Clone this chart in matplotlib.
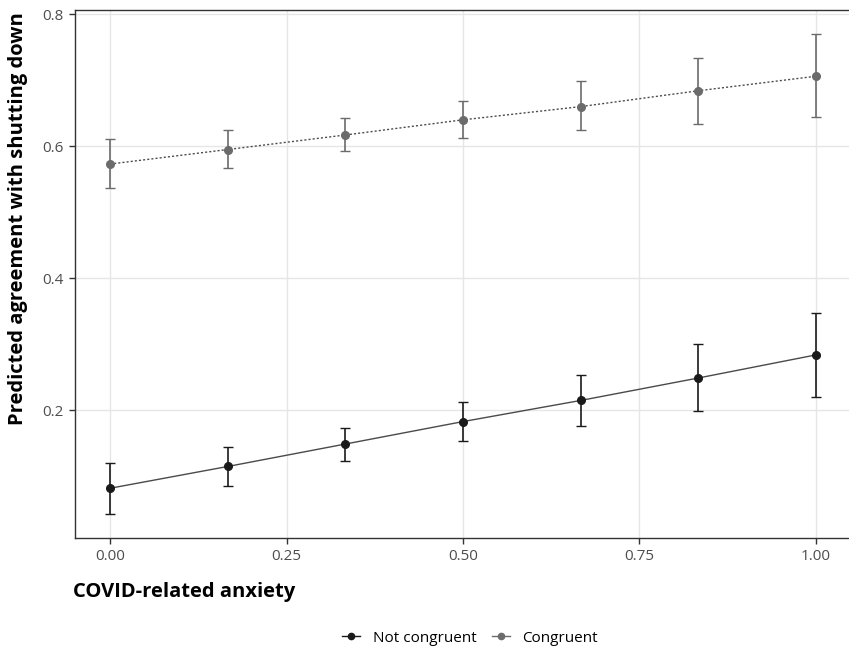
import matplotlib
matplotlib.use("Agg")
import matplotlib.pyplot as plt
from matplotlib.lines import Line2D

anxiety = [0.0, 1/6, 2/6, 0.5, 4/6, 5/6, 1.0]

not_cong = [0.082, 0.115, 0.149, 0.183, 0.215, 0.249, 0.284]
not_cong_lo = [0.043, 0.086, 0.123, 0.153, 0.176, 0.199, 0.220]
not_cong_hi = [0.121, 0.145, 0.174, 0.212, 0.254, 0.300, 0.348]

cong = [0.573, 0.595, 0.617, 0.640, 0.660, 0.684, 0.706]
cong_lo = [0.537, 0.567, 0.593, 0.612, 0.624, 0.634, 0.644]
cong_hi = [0.611, 0.624, 0.642, 0.668, 0.699, 0.733, 0.770]

xticks = [0.0, 0.25, 0.5, 0.75, 1.0]
xticklabels = ["0.00", "0.25", "0.50", "0.75", "1.00"]
yticks = [0.2, 0.4, 0.6, 0.8]
yticklabels = ["0.2", "0.4", "0.6", "0.8"]

plt.rcParams['font.family'] = ['Open Sans', 'DejaVu Sans']

fig = plt.figure(figsize=(8.49, 6.55), dpi=100)
W, H = 849, 655
left_px, right_px, top_px, bot_px = 74.7, 851.3, 10, 538
ax = fig.add_axes([left_px / W, (H - bot_px) / H, (right_px - left_px) / W, (bot_px - top_px) / H])

c_nc = "#1a1a1a"
c_c = "#6b6b6b"

def err(v, lo, hi):
    return [[a - b for a, b in zip(v, lo)], [b - a for a, b in zip(v, hi)]]

ax.plot(anxiety, not_cong, color="#4a4a4a", lw=1.0, zorder=3)
ax.errorbar(anxiety, not_cong, yerr=err(not_cong, not_cong_lo, not_cong_hi), fmt='none',
            ecolor=c_nc, elinewidth=1.2, capsize=3.5, capthick=1.0, zorder=4)
ax.plot(anxiety, not_cong, 'o', color=c_nc, ms=5.5, zorder=5)

ax.plot(anxiety, cong, color="#4d4d4d", lw=1.0, ls=(0, (1.5, 1.5)), zorder=3)
ax.errorbar(anxiety, cong, yerr=err(cong, cong_lo, cong_hi), fmt='none',
            ecolor=c_c, elinewidth=1.2, capsize=3.5, capthick=1.0, zorder=4)
ax.plot(anxiety, cong, 'o', color=c_c, ms=5.5, zorder=5)

ax.set_xlim(-0.05, 1.05)
ax.set_ylim(0.0067, 0.8063)
ax.set_xticks(xticks)
ax.set_xticklabels(xticklabels)
ax.set_yticks(yticks)
ax.set_yticklabels(yticklabels)
ax.grid(True, color="#e6e6e6", lw=1.0, zorder=0)
ax.set_axisbelow(True)
for s in ax.spines.values():
    s.set_color("#333333")
    s.set_linewidth(1.0)
ax.spines['right'].set_visible(False)
ax.tick_params(axis='both', colors="#333333", length=4, width=1.0, labelsize=11, labelcolor="#4d4d4d", pad=4)

fig.text(73 / W, 1 - 592 / H, "COVID-related anxiety", fontsize=14.5, fontweight='bold',
         ha='left', va='center', color='black')
fig.text(18 / W, 1 - 219 / H, "Predicted agreement with shutting down", fontsize=14.5, fontweight='bold',
         ha='center', va='center', rotation=90, color='black')

handles = [Line2D([0], [0], color=c_nc, marker='o', ms=4.5, lw=1.0),
           Line2D([0], [0], color=c_c, marker='o', ms=4.5, lw=1.0)]
fig.legend(handles, ["Not congruent", "Congruent"], loc='center', bbox_to_anchor=(470 / W, 1 - 638 / H),
           ncol=2, frameon=False, fontsize=11, handlelength=1.2, columnspacing=1.0, handletextpad=0.8)

fig.savefig("out.png", dpi=100)
